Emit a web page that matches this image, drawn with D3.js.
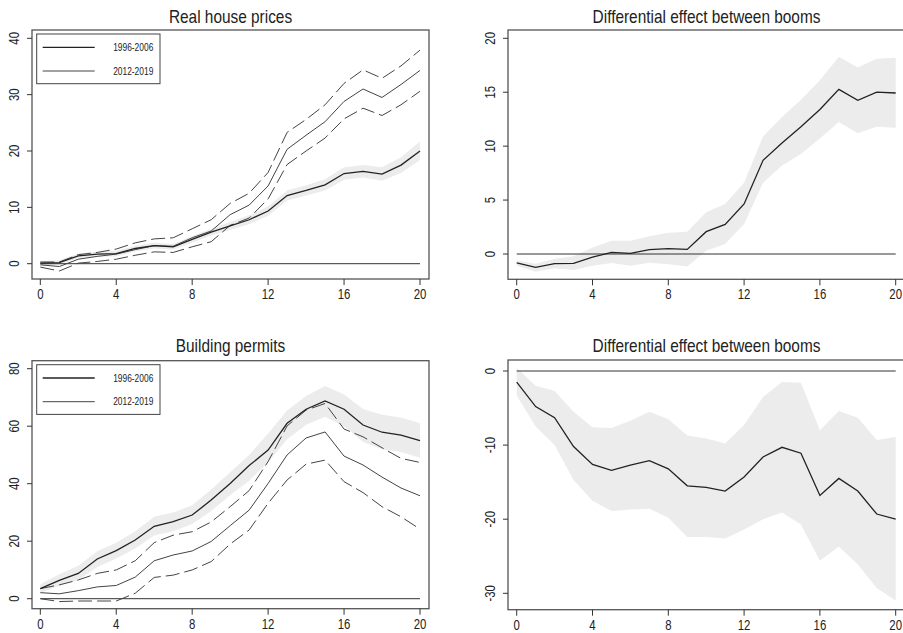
<!DOCTYPE html>
<html>
<head>
<meta charset="utf-8">
<script src="https://cdn.jsdelivr.net/npm/d3@7/dist/d3.min.js"></script>
<style>
  body { margin: 0; background: #fff; }
  svg text { font-family: "Liberation Sans", Arial, sans-serif; fill: #222; }
</style>
</head>
<body>
<div id="chart"></div>
<script>
// horizon (quarters)
var horizon = [0, 1, 2, 3, 4, 5, 6, 7, 8, 9, 10, 11, 12, 13, 14, 15, 16, 17, 18, 19, 20];
var xTicks = [0, 4, 8, 12, 16, 20];
var legendLabels = ["1996-2006", "2012-2019"];

// Real house prices
var priceOld = [0.1, 0.2, 1.4, 1.7, 1.8, 2.7, 3.2, 3.0, 4.3, 5.6, 6.7, 7.8, 9.35, 12.1, 13.0, 14.0, 16.0, 16.4, 15.9, 17.5, 20.0];
var priceOldHi = [0.5, 0.6, 1.8, 2.1, 2.3, 3.2, 3.7, 3.5, 4.9, 6.2, 7.4, 8.6, 10.2, 13.0, 13.9, 15.0, 17.1, 17.5, 17.1, 18.9, 21.7];
var priceOldLo = [-0.3, -0.2, 1.0, 1.3, 1.3, 2.2, 2.7, 2.5, 3.7, 5.0, 6.0, 7.0, 8.5, 11.2, 12.1, 13.0, 14.9, 15.3, 14.7, 16.1, 18.4];
var priceNew = [-0.2, -0.5, 0.8, 1.3, 1.7, 2.5, 3.2, 3.1, 4.6, 5.8, 8.7, 10.4, 13.8, 20.3, 22.8, 25.2, 28.8, 31.0, 29.5, 31.8, 34.3];
var priceNewHi = [0.3, 0.3, 1.6, 2.0, 2.6, 3.7, 4.4, 4.6, 6.2, 7.8, 10.7, 12.5, 16.2, 23.3, 25.6, 28.2, 32.0, 34.4, 32.9, 35.1, 37.9];
var priceNewLo = [-0.6, -1.3, 0.1, 0.4, 0.8, 1.5, 2.1, 2.0, 3.0, 3.9, 6.8, 8.1, 11.5, 17.6, 20.0, 22.3, 25.7, 27.6, 26.3, 28.2, 30.6];
var priceDiff = [-0.83, -1.24, -0.9, -0.87, -0.3, 0.15, 0.06, 0.4, 0.5, 0.43, 2.07, 2.75, 4.64, 8.69, 10.3, 11.8, 13.4, 15.27, 14.25, 15.0, 14.93];
var priceDiffHi = [-0.6, -0.9, -0.43, -0.2, 0.6, 1.24, 1.24, 1.64, 1.98, 2.07, 3.86, 4.64, 6.6, 10.9, 12.7, 14.3, 16.1, 18.3, 17.3, 18.1, 18.2];
var priceDiffLo = [-1.08, -1.64, -1.33, -1.48, -1.1, -0.83, -1.08, -0.8, -0.96, -1.17, 0.3, 0.93, 2.78, 6.6, 8.2, 9.27, 10.7, 12.24, 11.2, 11.8, 11.7];

// Building permits
var permitOld = [3.5, 6.4, 8.8, 13.8, 16.7, 20.4, 25.2, 26.8, 29.1, 34.3, 40.1, 46.3, 51.7, 61.0, 65.9, 68.8, 65.9, 60.4, 57.9, 56.9, 55.0];
var permitOldHi = [5.0, 8.5, 11.5, 16.5, 19.5, 23.5, 28.5, 30.0, 32.5, 38.0, 44.0, 50.0, 57.5, 65.5, 70.5, 74.0, 71.0, 66.0, 64.0, 63.0, 61.0];
var permitOldLo = [2.0, 4.5, 6.5, 11.0, 14.0, 17.5, 22.0, 23.5, 26.0, 30.5, 36.0, 41.0, 47.5, 55.5, 60.5, 63.3, 60.0, 54.5, 52.0, 51.0, 49.0];
var permitNew = [2.1, 1.7, 2.8, 4.1, 4.6, 7.5, 13.2, 15.2, 16.6, 19.9, 25.4, 30.8, 40.1, 50.0, 55.9, 58.0, 49.6, 46.5, 42.3, 38.5, 35.8];
var permitNewHi = [3.5, 4.8, 6.5, 8.8, 10.0, 13.2, 19.5, 22.1, 23.3, 26.7, 32.0, 37.6, 47.7, 60.1, 65.6, 67.9, 59.0, 56.3, 52.5, 48.8, 47.4];
var permitNewLo = [0.0, -1.0, -0.8, -0.8, -0.8, 1.9, 7.4, 8.2, 10.0, 12.9, 19.0, 23.9, 33.2, 41.3, 46.8, 48.2, 40.7, 36.9, 32.0, 28.5, 24.2];
var permitDiff = [-1.5, -4.8, -6.3, -10.2, -12.6, -13.4, -12.7, -12.1, -13.2, -15.5, -15.7, -16.2, -14.3, -11.6, -10.3, -11.1, -16.8, -14.5, -16.2, -19.3, -20.0];
var permitDiffHi = [0.4, -2.0, -2.7, -5.5, -7.6, -7.7, -6.7, -5.5, -6.5, -8.7, -9.1, -9.8, -7.3, -3.5, -1.5, -1.6, -8.0, -5.4, -6.3, -9.3, -8.9];
var permitDiffLo = [-3.3, -7.5, -10.0, -14.7, -17.5, -18.9, -18.7, -18.6, -19.8, -22.4, -22.4, -22.6, -21.4, -20.0, -19.1, -20.7, -25.6, -23.7, -26.1, -29.3, -31.0];

var W = 903, H = 633;

var panels = [
    { title: "Real house prices", titleY: 22.5, box: [32, 30, 429, 279], xr: [40.3, 420],
      yd: [0, 40], yr: [263.7, 38.3], yTicks: [0, 10, 20, 30, 40], legend: true,
      band: [priceOldLo, priceOldHi], main: priceOld, second: priceNew, dashed: [priceNewLo, priceNewHi] },
    { title: "Differential effect between booms", titleY: 22.5, box: [508, 30, 905, 279.3], xr: [516.7, 895.7],
      yd: [0, 20], yr: [254, 38.3], yTicks: [0, 5, 10, 15, 20], legend: false,
      band: [priceDiffLo, priceDiffHi], main: priceDiff },
    { title: "Building permits", titleY: 352, box: [32, 360.7, 429, 608.7], xr: [40.3, 420],
      yd: [0, 80], yr: [598.7, 368.7], yTicks: [0, 20, 40, 60, 80], legend: true,
      band: [permitOldLo, permitOldHi], main: permitOld, second: permitNew, dashed: [permitNewLo, permitNewHi] },
    { title: "Differential effect between booms", titleY: 352, box: [508, 360, 905, 609.7], xr: [516.7, 895.7],
      yd: [-30, 0], yr: [593.3, 371], yTicks: [-30, -20, -10, 0], legend: false,
      band: [permitDiffLo, permitDiffHi], main: permitDiff }
];

// narrow text: the original uses a condensed face
function narrowText(sel, x, y, size, sx, rot, anchor, label) {
    var tr = "translate(" + x + "," + y + ")" + (rot ? " rotate(" + rot + ")" : "") + " scale(" + sx + ",1)";
    return sel.append("text").attr("transform", tr).attr("text-anchor", anchor)
        .attr("font-size", size).text(label);
}

var svg = d3.select("#chart").append("svg").attr("width", W).attr("height", H);

panels.forEach(function (p) {
    var l = p.box[0], t = p.box[1], r = p.box[2], b = p.box[3];
    var x = d3.scaleLinear().domain([0, 20]).range(p.xr);
    var y = d3.scaleLinear().domain(p.yd).range(p.yr);
    var g = svg.append("g");

    // confidence band
    var area = d3.area()
        .x(function (d, i) { return x(horizon[i]); })
        .y0(function (d, i) { return y(p.band[0][i]); })
        .y1(function (d, i) { return y(p.band[1][i]); });
    g.append("path").attr("d", area(horizon)).attr("fill", "#ececec").attr("stroke", "none");

    var line = function (vals) {
        return d3.line()
            .x(function (d, i) { return x(horizon[i]); })
            .y(function (d, i) { return y(vals[i]); })(horizon);
    };

    // zero line
    g.append("line").attr("x1", x(0)).attr("x2", x(20)).attr("y1", y(0)).attr("y2", y(0))
        .attr("stroke", "#333").attr("stroke-width", 1);

    if (p.dashed) {
        p.dashed.forEach(function (s) {
            g.append("path").attr("d", line(s)).attr("fill", "none").attr("stroke", "#444")
                .attr("stroke-width", 1).attr("stroke-dasharray", "14,5");
        });
        g.append("path").attr("d", line(p.second)).attr("fill", "none").attr("stroke", "#444").attr("stroke-width", 1);
    }
    g.append("path").attr("d", line(p.main)).attr("fill", "none").attr("stroke", "#222").attr("stroke-width", 1.3);

    // box
    g.append("rect").attr("x", l).attr("y", t).attr("width", r - l).attr("height", b - t)
        .attr("fill", "none").attr("stroke", "#555").attr("stroke-width", 1.3);

    // x axis
    var xa = g.append("g").attr("transform", "translate(0," + b + ")");
    xa.selectAll("line").data(xTicks).enter().append("line")
        .attr("x1", function (d) { return x(d); }).attr("x2", function (d) { return x(d); })
        .attr("y1", 0).attr("y2", 6).attr("stroke", "#333");
    xTicks.forEach(function (d) {
        narrowText(xa, x(d), 20, 15, 0.76, 0, "middle", d);
    });

    // y axis
    var ya = g.append("g").attr("transform", "translate(" + l + ",0)");
    ya.selectAll("line").data(p.yTicks).enter().append("line")
        .attr("x1", -5).attr("x2", 0)
        .attr("y1", function (d) { return y(d); }).attr("y2", function (d) { return y(d); }).attr("stroke", "#333");
    p.yTicks.forEach(function (d) {
        narrowText(ya, -12.8, y(d), 15, 0.76, -90, "middle", d);
    });

    // title
    narrowText(g, (l + r) / 2, p.titleY, 17.5, 0.88, 0, "middle", p.title);

    // legend
    if (p.legend) {
        var lg = g.append("g").attr("transform", "translate(" + (l + 4.7) + "," + (t + 4) + ")");
        lg.append("rect").attr("width", 123.3).attr("height", 49.7).attr("fill", "#fff")
            .attr("stroke", "#444").attr("stroke-width", 1);
        legendLabels.forEach(function (lab, i) {
            var yy = 13.3 + i * 23.7;
            lg.append("line").attr("x1", 6).attr("x2", 58).attr("y1", yy).attr("y2", yy)
                .attr("stroke", i === 0 ? "#222" : "#444").attr("stroke-width", i === 0 ? 1.3 : 1);
            narrowText(lg, 116.6, yy + 3.6, 10.5, 0.8, 0, "end", lab);
        });
    }
});
</script>
</body>
</html>
